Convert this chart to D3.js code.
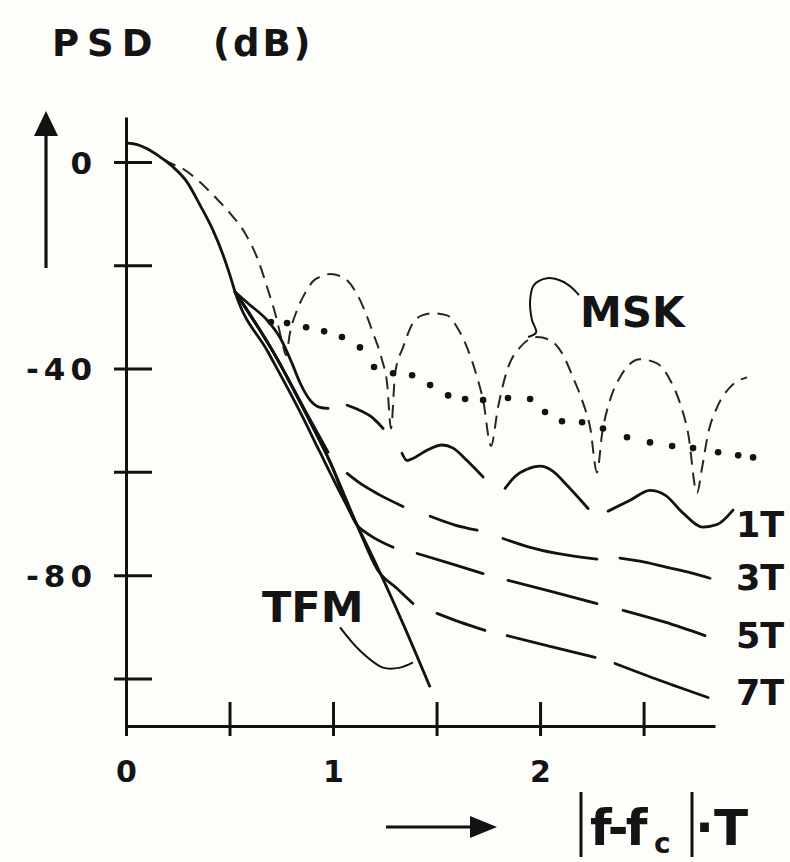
<!DOCTYPE html>
<html>
<head>
<meta charset="utf-8">
<script src="https://cdn.jsdelivr.net/npm/d3@7"></script>
<style>
  html, body { margin: 0; padding: 0; background: #fdfdfa; }
  svg { display: block; }
  text { font-family: "DejaVu Sans", "Liberation Sans", Arial, sans-serif; font-weight: bold; fill: #141414; }
</style>
</head>
<body>
<svg id="chart" width="790" height="862"></svg>
<script>
// ---- axes ----
const xTicks = [0, 0.5, 1, 1.5, 2, 2.5];
const xTickLabels = ["0", "", "1", "", "2", ""];
const yTicks = [0, -20, -40, -60, -80, -100];
const yTickLabels = ["0", "", "-40", "", "-80", ""];

// ---- series: [ |f-fc|*T , PSD dB ] ----
// TFM spectrum (solid), including the shared main lobe
const tfm = [
  [0, 3.7], [0.05, 3.4], [0.1, 2.6], [0.164, 1.0], [0.222, -0.8], [0.295, -3.9], [0.357, -8.3],
  [0.420, -13.2], [0.469, -18.0], [0.502, -21.9], [0.527, -25.2], [0.686, -36.8],
  [0.841, -48.4], [0.937, -56.2], [1.034, -64.0], [1.116, -70.3], [1.227, -79.5],
  [1.348, -90.3], [1.469, -101.7]
];

// MSK spectrum (short dashes)
const msk = [
  [0, 3.7], [0.05, 3.4], [0.1, 2.6], [0.164, 1.0], [0.222, -0.4], [0.261, -1.0], [0.357, -3.9], [0.430, -6.8],
  [0.502, -9.9], [0.575, -13.8], [0.638, -19.0], [0.686, -24.8], [0.729, -30.6],
  [0.758, -35.5], [0.773, -37.4], [0.792, -33.1], [0.826, -28.7], [0.865, -25.4],
  [0.903, -23.1], [0.947, -22.1], [0.986, -21.7], [1.034, -22.1], [1.068, -22.9],
  [1.130, -26.7], [1.193, -33.1], [1.237, -38.4], [1.261, -42.8], [1.280, -51.6],
  [1.300, -40.9], [1.338, -35.9], [1.386, -31.2], [1.430, -29.7], [1.483, -29.3],
  [1.551, -29.7], [1.599, -32.0], [1.647, -35.9], [1.696, -41.7], [1.725, -46.1],
  [1.763, -55.0], [1.797, -47.5], [1.841, -40.3], [1.903, -35.9], [1.986, -33.9],
  [2.048, -34.5], [2.106, -37.0], [2.159, -41.7], [2.208, -46.7], [2.242, -51.4],
  [2.275, -60.1], [2.300, -52.5], [2.338, -46.1], [2.386, -41.7], [2.483, -38.2],
  [2.565, -39.0], [2.628, -42.2], [2.676, -46.7], [2.715, -52.5], [2.758, -64.1],
  [2.783, -59.1], [2.812, -52.5], [2.855, -47.5], [2.918, -43.6], [3.0, -41.7]
];

// dotted spectrum
const dotted = [
  [0.700, -31.0], [0.778, -31.2], [0.870, -32.0], [0.957, -32.8], [1.043, -33.9],
  [1.130, -35.9], [1.198, -39.7], [1.290, -40.9], [1.382, -41.3], [1.469, -43.2],
  [1.556, -45.2], [1.638, -45.9], [1.725, -46.1], [1.845, -45.7], [1.952, -45.9],
  [2.024, -48.4], [2.106, -50.2], [2.203, -50.4], [2.304, -51.6], [2.420, -53.3],
  [2.531, -54.3], [2.638, -55.0], [2.739, -55.4], [2.860, -56.2], [2.957, -56.8],
  [3.029, -57.2]
];

// long-dash spectra, one list of pen strokes per curve
const curve1T = [
  [[0.527, -25.2], [0.599, -27.7], [0.681, -30.6], [0.744, -34.0], [0.802, -39.0],
   [0.841, -42.8], [0.889, -46.1], [0.937, -47.5], [0.976, -47.7]],
  [[1.068, -47.1], [1.130, -48.1], [1.193, -49.6], [1.242, -51.6]],
  [[1.333, -56.4], [1.357, -57.8], [1.386, -57.4], [1.454, -55.8], [1.527, -54.8],
   [1.580, -55.4], [1.647, -57.8], [1.725, -61.0]],
  [[1.831, -63.2], [1.879, -60.9], [1.937, -59.5], [2.0, -58.9], [2.063, -59.9],
   [2.130, -62.6], [2.232, -67.1]],
  [[2.329, -67.6], [2.435, -65.5], [2.531, -63.6], [2.604, -64.5], [2.691, -68.0],
   [2.787, -70.7], [2.855, -70.2], [2.932, -67.4]]
];
const curve3T = [
  [[0.527, -25.2], [0.720, -37.4], [0.865, -48.1], [0.976, -56.2]],
  [[1.068, -60.3], [1.130, -62.2], [1.227, -64.5], [1.338, -66.7]],
  [[1.469, -68.6], [1.589, -70.3], [1.696, -71.3]],
  [[1.821, -72.9], [1.952, -74.6], [2.082, -75.8], [2.275, -76.9]],
  [[2.386, -76.7], [2.483, -77.3], [2.614, -78.5], [2.725, -79.5], [2.821, -80.6]]
];
const curve5T = [
  [[0.527, -25.2], [0.720, -37.4], [0.865, -48.4], [0.986, -58.1], [1.116, -70.3],
   [1.179, -72.3], [1.290, -74.6]],
  [[1.406, -75.8], [1.565, -77.7], [1.725, -79.7]],
  [[1.845, -81.0], [2.048, -83.1], [2.275, -85.5]],
  [[2.401, -86.8], [2.604, -89.1], [2.797, -91.7]]
];
const curve7T = [
  [[0.527, -25.2], [0.720, -37.4], [0.865, -48.4], [0.986, -58.1], [1.116, -70.3],
   [1.217, -79.1], [1.309, -82.6], [1.386, -85.5]],
  [[1.502, -87.4], [1.614, -89.1], [1.734, -90.7]],
  [[1.841, -91.7], [2.048, -93.8], [2.266, -95.9]],
  [[2.362, -97.1], [2.580, -100.4], [2.812, -103.7]]
];
const seriesLabels = ["1T", "3T", "5T", "7T"];

// leader strokes tying the names to their curves
const mskLeader = [[1.942, -33.9], [1.981, -33.0], [1.961, -30.6], [1.952, -26.7], [1.971, -23.8],
                   [2.034, -22.5], [2.106, -23.1], [2.155, -24.4], [2.188, -25.8]];
const tfmLeader = [[1.034, -90.1], [1.130, -94.6], [1.242, -97.9], [1.324, -97.9], [1.386, -96.9]];

// ---- drawing ----
const svg = d3.select("#chart");
const ink = "#121212";

const x = d3.scaleLinear().domain([0, 2.845]).range([126, 715]);
const y = d3.scaleLinear().domain([-109.2, 8.7]).range([726, 117]);

const line = d3.line().x(d => x(d[0])).y(d => y(d[1])).curve(d3.curveMonotoneX);

// y axis
const gy = svg.append("g")
  .attr("transform", `translate(${x(0)},0)`)
  .call(d3.axisLeft(y).tickValues(yTicks).tickFormat((d, i) => yTickLabels[i])
        .tickSizeInner(12).tickSizeOuter(0).tickPadding(17));
gy.select(".domain").attr("stroke", ink).attr("stroke-width", 3);
gy.selectAll(".tick line").attr("stroke", ink).attr("stroke-width", 3).attr("x1", 26);
gy.selectAll(".tick text").attr("font-size", 31).attr("letter-spacing", 5).attr("dy", "0.36em");

// x axis
const gx = svg.append("g")
  .attr("transform", `translate(0,${y(-109.2)})`)
  .call(d3.axisBottom(x).tickValues(xTicks).tickFormat((d, i) => xTickLabels[i])
        .tickSizeInner(10).tickSizeOuter(0).tickPadding(25));
gx.select(".domain").attr("stroke", ink).attr("stroke-width", 3);
gx.selectAll(".tick line").attr("stroke", ink).attr("stroke-width", 3).attr("y1", -24);
gx.selectAll(".tick text").attr("font-size", 30);
svg.selectAll("g").attr("font-family", null).attr("font-size", null);

// MSK, short dashes
svg.append("path").datum(msk)
  .attr("d", line).attr("fill", "none").attr("stroke", "#262626")
  .attr("stroke-width", 2).attr("stroke-dasharray", "13 8");

// dotted spectrum
svg.append("g").selectAll("circle").data(dotted).join("circle")
  .attr("cx", d => x(d[0])).attr("cy", d => y(d[1])).attr("r", 3.3).attr("fill", ink);

// TFM, solid
svg.append("path").datum(tfm)
  .attr("d", line).attr("fill", "none").attr("stroke", ink)
  .attr("stroke-width", 2.8).attr("stroke-linejoin", "round");

// long-dash curves
[curve1T, curve3T, curve5T, curve7T].forEach(strokes => {
  svg.append("g").selectAll("path").data(strokes).join("path")
    .attr("d", line).attr("fill", "none").attr("stroke", ink)
    .attr("stroke-width", 2.8).attr("stroke-linecap", "round");
});

// leaders
svg.selectAll("path.leader").data([mskLeader, tfmLeader]).join("path")
  .attr("class", "leader")
  .attr("d", d3.line().x(d => x(d[0])).y(d => y(d[1])).curve(d3.curveCatmullRom))
  .attr("fill", "none").attr("stroke", ink).attr("stroke-width", 2);

// curve names at the right margin
const nameBaselines = [537, 590, 648, 705];
svg.append("g").selectAll("text").data(seriesLabels).join("text")
  .attr("x", 736).attr("y", (d, i) => nameBaselines[i])
  .attr("font-size", 35).text(d => d);

svg.append("text").attr("x", 580).attr("y", 327).attr("font-size", 42).text("MSK");
svg.append("text").attr("x", 262).attr("y", 622).attr("font-size", 43).text("TFM");

// y axis title and arrow
svg.append("text").attr("x", 52).attr("y", 56).attr("font-size", 37).attr("letter-spacing", 8).text("PSD");
svg.append("text").attr("x", 213).attr("y", 56).attr("font-size", 37).attr("letter-spacing", 3).text("(dB)");
svg.append("line").attr("x1", 46).attr("x2", 46).attr("y1", 268).attr("y2", 128)
  .attr("stroke", ink).attr("stroke-width", 3.2);
svg.append("path").attr("d", "M46,111 L34,136 L58,136 Z").attr("fill", ink);

// x axis title and arrow
svg.append("line").attr("x1", 386).attr("x2", 475).attr("y1", 827).attr("y2", 827)
  .attr("stroke", ink).attr("stroke-width", 3.2);
svg.append("path").attr("d", "M497,827 L470,816 L470,838 Z").attr("fill", ink);
svg.append("line").attr("x1", 581).attr("x2", 581).attr("y1", 792).attr("y2", 857)
  .attr("stroke", ink).attr("stroke-width", 3);
svg.append("line").attr("x1", 692).attr("x2", 692).attr("y1", 792).attr("y2", 857)
  .attr("stroke", ink).attr("stroke-width", 3);
svg.append("text").attr("x", 590).attr("y", 845).attr("font-size", 50).attr("letter-spacing", -3).text("f-f");
svg.append("text").attr("x", 654).attr("y", 853).attr("font-size", 28).text("c");
svg.append("text").attr("x", 695).attr("y", 845).attr("font-size", 50).text("·T");
</script>
</body>
</html>
